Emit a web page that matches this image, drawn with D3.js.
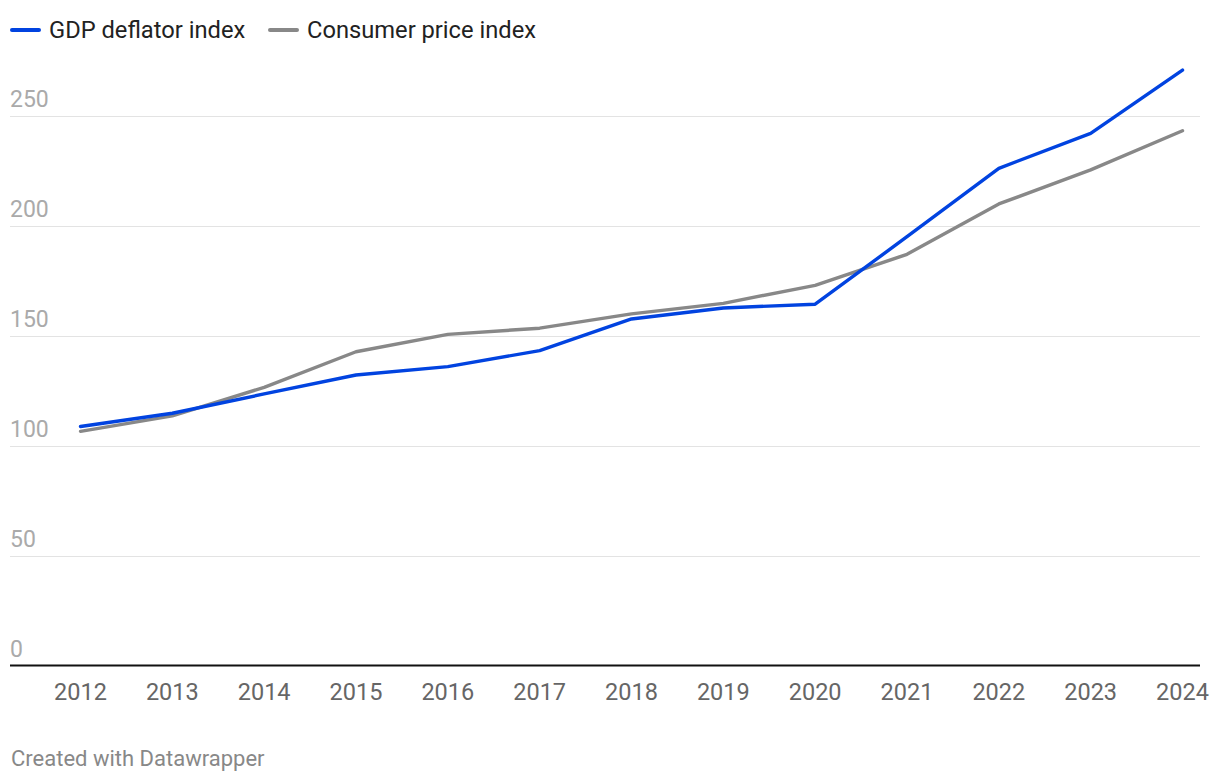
<!DOCTYPE html>
<html>
<head>
<meta charset="utf-8">
<script src="https://cdn.jsdelivr.net/npm/d3@7"></script>
<style>
  html, body { margin: 0; padding: 0; background: #fff; }
  svg { display: block; font-family: Roboto, "Noto Sans", sans-serif; }
</style>
</head>
<body>
<svg id="chart" width="1220" height="782"></svg>
<script>
const years = [2012, 2013, 2014, 2015, 2016, 2017, 2018, 2019, 2020, 2021, 2022, 2023, 2024];
const gdpDeflator = [108.8, 114.8, 123.6, 132.2, 136.0, 143.3, 157.7, 162.7, 164.4, 195.1, 226.2, 242.1, 270.9];
const consumerPrice = [106.6, 113.6, 126.6, 142.8, 150.7, 153.5, 160.0, 164.8, 173.0, 187.1, 210.0, 225.5, 243.3];
const yTicks = [0, 50, 100, 150, 200, 250];
const seriesNames = ["GDP deflator index", "Consumer price index"];
const seriesColors = ["#0143e0", "#888888"];

const svg = d3.select("#chart");
const x = d3.scaleLinear().domain([2012, 2024]).range([80.5, 1182.5]);
const y = d3.scaleLinear().domain([0, 250]).range([665.7, 116]);

// gridlines
svg.append("g").selectAll("line").data(yTicks.filter(d => d > 0)).join("line")
  .attr("x1", 10).attr("x2", 1200)
  .attr("y1", d => Math.round(y(d)) + 0.5).attr("y2", d => Math.round(y(d)) + 0.5)
  .attr("stroke", "#e3e3e3").attr("stroke-width", 1);

// y labels
svg.append("g").selectAll("text").data(yTicks).join("text")
  .attr("x", 10).attr("y", d => y(d) - 9)
  .attr("fill", "#aaaaaa").attr("font-size", 23)
  .text(d => d);

// x axis line
svg.append("line").attr("x1", 10).attr("x2", 1200)
  .attr("y1", 665.5).attr("y2", 665.5)
  .attr("stroke", "#111").attr("stroke-width", 2);

// x labels
svg.append("g").selectAll("text").data(years).join("text")
  .attr("x", d => x(d)).attr("y", 700)
  .attr("text-anchor", "middle")
  .attr("fill", "#666666").attr("font-size", 23.5)
  .text(d => d);

// lines
const line = d3.line().x((d, i) => x(years[i])).y(d => y(d));
[[consumerPrice, seriesColors[1]], [gdpDeflator, seriesColors[0]]].forEach(([s, col]) => {
  svg.append("path").datum(s)
    .attr("d", line)
    .attr("fill", "none")
    .attr("stroke", col)
    .attr("stroke-width", 3.4)
    .attr("stroke-linejoin", "round")
    .attr("stroke-linecap", "round");
});

// legend
const legendX = [10, 268];
seriesNames.forEach((name, i) => {
  const g = svg.append("g");
  g.append("line").attr("x1", legendX[i] + 2).attr("x2", legendX[i] + 29)
    .attr("y1", 30).attr("y2", 30)
    .attr("stroke", seriesColors[i]).attr("stroke-width", 4)
    .attr("stroke-linecap", "round");
  g.append("text").attr("x", legendX[i] + 39).attr("y", 38.3)
    .attr("fill", "#222222").attr("font-size", 23.7)
    .text(name);
});

// footer
svg.append("text").attr("x", 11).attr("y", 766)
  .attr("fill", "#888888").attr("font-size", 22)
  .text("Created with Datawrapper");
</script>
</body>
</html>
